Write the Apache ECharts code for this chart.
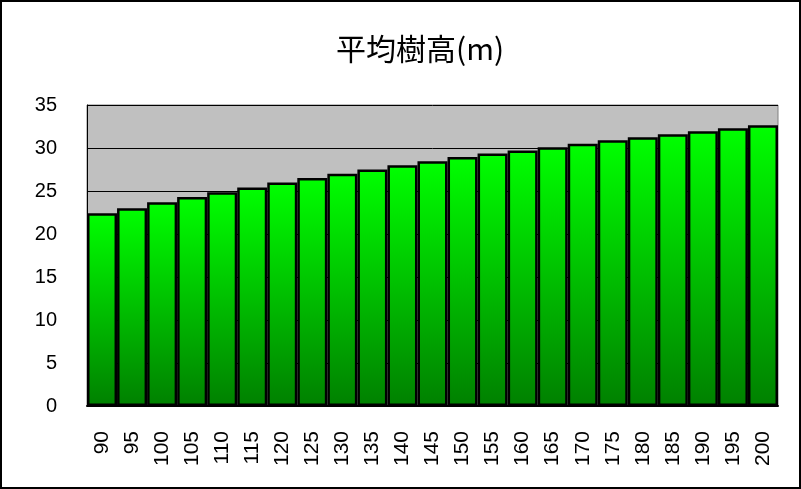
<!DOCTYPE html>
<html>
<head>
<meta charset="utf-8">
<script src="https://cdn.jsdelivr.net/npm/echarts@6/dist/echarts.min.js"></script>
<style>
html,body{margin:0;padding:0;background:#fff;}
#c{width:801px;height:489px;}
</style>
</head>
<body>
<div id="c"></div>
<script>
const title = '平均樹高(m)';
const categories = ['90','95','100','105','110','115','120','125','130','135','140','145','150','155','160','165','170','175','180','185','190','195','200'];
const heights = [22.4,23.0,23.7,24.3,24.85,25.4,26.0,26.5,27.0,27.5,28.0,28.45,28.95,29.35,29.7,30.1,30.5,30.9,31.25,31.6,31.95,32.3,32.65];
const yTicks = {min:0, max:35, interval:5};

const chart = echarts.init(document.getElementById('c'), null, {renderer:'canvas'});
chart.setOption({
  animation:false,
  backgroundColor:'#fff',
  title:{
    text:title, left:331, top:29,
    textStyle:{fontFamily:'"Noto Sans CJK JP", sans-serif', fontSize:30, fontWeight:'normal', color:'#000'}
  },
  graphic:[{
    type:'rect', silent:true, z:100,
    shape:{x:1, y:1, width:799, height:487},
    style:{fill:'none', stroke:'#000', lineWidth:2}
  }],
  grid:{
    left:87, right:23, top:105, bottom:83,
    show:true, backgroundColor:'#C0C0C0', borderColor:'#808080', borderWidth:1
  },
  xAxis:{
    type:'category', data:categories,
    axisLine:{lineStyle:{color:'#000', width:2}},
    axisTick:{show:false},
    axisLabel:{rotate:90, margin:25, color:'#000', fontSize:21, fontFamily:'"Liberation Sans", Arial, sans-serif', interval:0}
  },
  yAxis:{
    type:'value', min:yTicks.min, max:yTicks.max, interval:yTicks.interval,
    axisLine:{show:true, lineStyle:{color:'#000', width:1}},
    axisTick:{show:true, inside:true, length:5, lineStyle:{color:'#000'}},
    splitLine:{show:true, lineStyle:{color:'#000', width:1}},
    axisLabel:{margin:30, color:'#000', fontSize:20, fontFamily:'"Liberation Sans", Arial, sans-serif'}
  },
  series:[{
    type:'bar', data:heights, barCategoryGap:0,
    itemStyle:{
      color:new echarts.graphic.LinearGradient(0,0,0,1,[{offset:0,color:'#00FF00'},{offset:1,color:'#008000'}]),
      borderColor:'#000', borderWidth:2.5
    }
  }]
});
</script>
</body>
</html>
